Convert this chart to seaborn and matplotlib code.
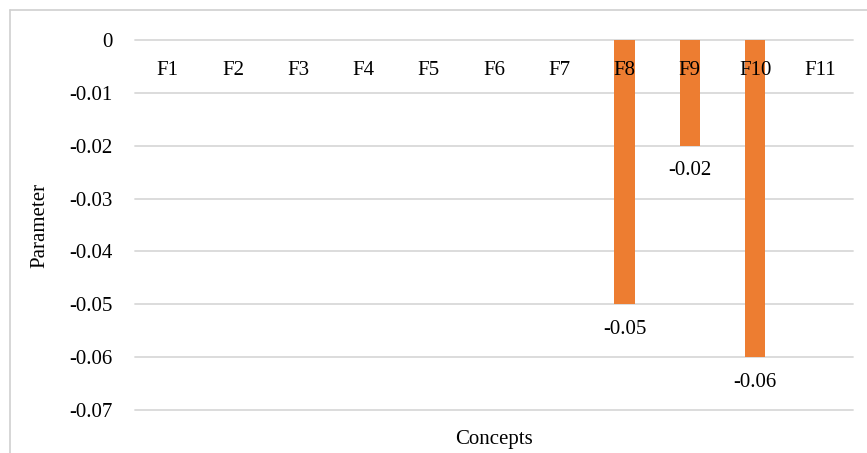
import matplotlib
matplotlib.use("Agg")
import matplotlib.pyplot as plt
import seaborn as sns
import pandas as pd
from matplotlib.lines import Line2D
from matplotlib.ticker import FuncFormatter

# data
concepts = ["F1", "F2", "F3", "F4", "F5", "F6", "F7", "F8", "F9", "F10", "F11"]
params = [0, 0, 0, 0, 0, 0, 0, -0.05, -0.02, -0.06, 0]
yticks = [0, -0.01, -0.02, -0.03, -0.04, -0.05, -0.06, -0.07]

sns.set_theme(style="white")
plt.rcParams["font.family"] = ["Liberation Serif", "DejaVu Serif"]
FS = 15

df = pd.DataFrame({"Concepts": concepts, "Parameter": params})

W, H = 867, 453
fig = plt.figure(figsize=(W / 100, H / 100), dpi=100)
ax = fig.add_axes([135 / W, 1 - 410 / H, (853 - 135) / W, (410 - 40) / H])

sns.barplot(data=df, x="Concepts", y="Parameter", color="#ED7D31", width=0.31,
            saturation=1, linewidth=0, ax=ax, zorder=2)

ax.set_ylim(-0.07, 0)
ax.set_yticks(yticks)
ax.yaxis.set_major_formatter(FuncFormatter(lambda v, p: "0" if abs(v) < 1e-9 else f"{v:.2f}"))
ax.tick_params(axis="y", length=0, pad=16, labelsize=FS, labelcolor="black")
ax.grid(axis="y", color="#d9d9d9", linewidth=1.3, zorder=0)
ax.set_axisbelow(True)
for gl in ax.get_ygridlines():
    gl.set_clip_on(False)
for s in ax.spines.values():
    s.set_visible(False)

# category labels sit just under the zero line
ax.set_xticks([])
for i, c in enumerate(concepts):
    ax.text(i, -0.0057, c, ha="center", va="center", fontsize=FS, color="black", zorder=3)

# data labels under non-zero bars
for i, v in enumerate(params):
    if v != 0:
        ax.annotate(f"{v:.2f}", (i, v), xytext=(0, -18), textcoords="offset points",
                    ha="center", va="center", fontsize=FS, color="black")

ax.set_xlabel("Concepts", fontsize=FS, color="black")
ax.set_ylabel("Parameter", fontsize=FS, color="black")
ax.xaxis.set_label_coords(0.5, -0.055)
ax.yaxis.set_label_coords(-86 / (853 - 135), 0.5)

# chart border (left and top visible)
fig.add_artist(Line2D([10 / W, 10 / W], [0, 1 - 10 / H], color="#d0d0d0", linewidth=1.2))
fig.add_artist(Line2D([10 / W, 1], [1 - 10 / H, 1 - 10 / H], color="#d0d0d0", linewidth=1.2))

fig.savefig("out.png", dpi=100)
